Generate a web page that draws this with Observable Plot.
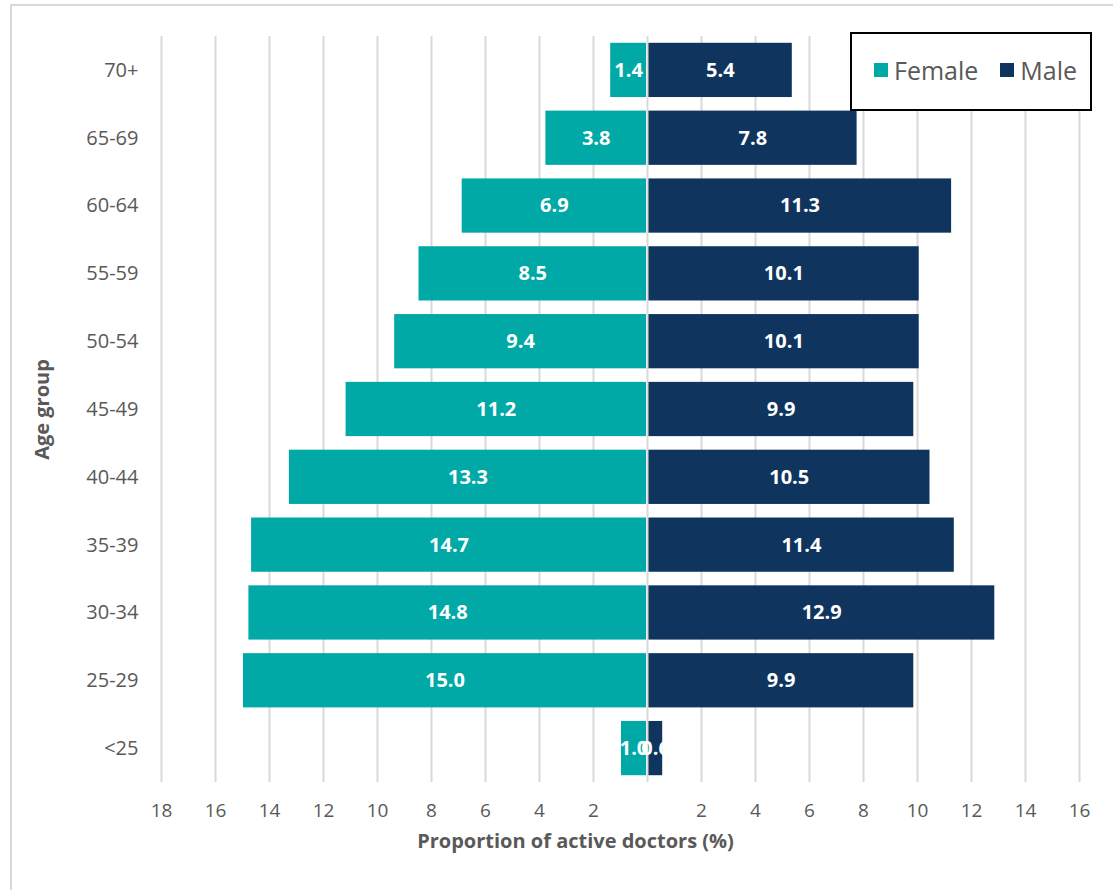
<!DOCTYPE html>
<html>
<head>
<meta charset="utf-8">
<script src="https://cdn.jsdelivr.net/npm/d3@7"></script>
<script src="https://cdn.jsdelivr.net/npm/@observablehq/plot@0.6"></script>
<style>
  html, body { margin: 0; padding: 0; background: #fff; }
  #wrap { position: relative; width: 1113px; height: 890px; overflow: hidden; font-family: "Open Sans", sans-serif; }
  #frame { position: absolute; left: 10px; top: 4px; width: 1200px; height: 1000px;
           border-top: 2px solid #d9d9d9; border-left: 2px solid #d9d9d9; }
  #chart { position: absolute; left: 0; top: 0; }
  #legend { position: absolute; left: 850px; top: 32px; width: 242px; height: 79px;
            border: 2px solid #000; background: #fff; display: flex; align-items: center;
            gap: 22px; padding-left: 22px; padding-bottom: 3px; box-sizing: border-box; }
  .item { display: flex; align-items: center; gap: 6px; font-size: 25px; color: #595959; }
  .swatch { width: 14px; height: 14px; display: inline-block; }
</style>
</head>
<body>
<div id="wrap">
  <div id="frame"></div>
  <div id="chart"></div>
  <div id="legend"></div>
</div>
<script>
// Age groups, bottom to top
const ageGroups = ["<25", "25-29", "30-34", "35-39", "40-44", "45-49", "50-54", "55-59", "60-64", "65-69", "70+"];
// Share of active doctors (%) in each age group
const femaleValues = [1.0, 15.0, 14.8, 14.7, 13.3, 11.2, 9.4, 8.5, 6.9, 3.8, 1.4];
const maleValues = [0.6, 9.9, 12.9, 11.4, 10.5, 9.9, 10.1, 10.1, 11.3, 7.8, 5.4];
const xTicks = [-18, -16, -14, -12, -10, -8, -6, -4, -2, 2, 4, 6, 8, 10, 12, 14, 16];
const seriesNames = ["Female", "Male"];
const seriesColors = ["#00a9a6", "#0f355e"];

// Female bars extend to the left (negative), male to the right
const rows = ageGroups.flatMap((age, i) => [
  {age, sex: "Female", value: femaleValues[i], signed: -femaleValues[i]},
  {age, sex: "Male", value: maleValues[i], signed: maleValues[i]}
]);

const gray = "#595959";

const chart = Plot.plot({
  width: 1113,
  height: 890,
  marginLeft: 161,
  marginRight: 34,
  marginTop: 36,
  marginBottom: 108,
  style: {fontFamily: "Open Sans, sans-serif", fontSize: "19px", color: gray, background: "transparent"},
  x: {domain: [-18, 16], ticks: xTicks, tickFormat: d => Math.abs(d), label: null},
  y: {domain: ageGroups.slice().reverse(), paddingInner: 0.2, paddingOuter: 0.1, round: false, label: null},
  color: {domain: seriesNames, range: seriesColors},
  marks: [
    Plot.gridX(xTicks, {stroke: "#d9d9d9", strokeWidth: 2, strokeOpacity: 1}),
    Plot.barX(rows, {x: "signed", y: "age", fill: "sex", insetLeft: 1, insetRight: 1}),
    Plot.ruleX([0], {stroke: "#d9d9d9", strokeWidth: 2}),
    Plot.text(rows, {
      x: d => d.signed / 2, y: "age", text: d => d.value.toFixed(1),
      fill: "white", fontWeight: "bold", fontSize: 20
    }),
    Plot.axisX({ticks: xTicks, tickFormat: d => Math.abs(d), tickSize: 0, tickPadding: 21, fontSize: 19, fill: gray}),
    Plot.axisY({tickSize: 0, tickPadding: 23, fontSize: 20, fill: gray}),
    Plot.text(["Proportion of active doctors (%)"], {
      frameAnchor: "bottom", textAnchor: "middle", dx: -45, dy: 65, fontWeight: "bold", fontSize: 20, fill: gray
    }),
    Plot.text(["Age group"], {
      frameAnchor: "left", textAnchor: "middle", dx: -119, rotate: -90, fontWeight: "bold", fontSize: 20, fill: gray
    })
  ]
});
document.getElementById("chart").appendChild(chart);

// Legend
const legend = document.getElementById("legend");
seriesNames.forEach((name, i) => {
  const item = document.createElement("div");
  item.className = "item";
  const sw = document.createElement("span");
  sw.className = "swatch";
  sw.style.background = seriesColors[i];
  const label = document.createElement("span");
  label.textContent = name;
  item.appendChild(sw);
  item.appendChild(label);
  legend.appendChild(item);
});
</script>
</body>
</html>
